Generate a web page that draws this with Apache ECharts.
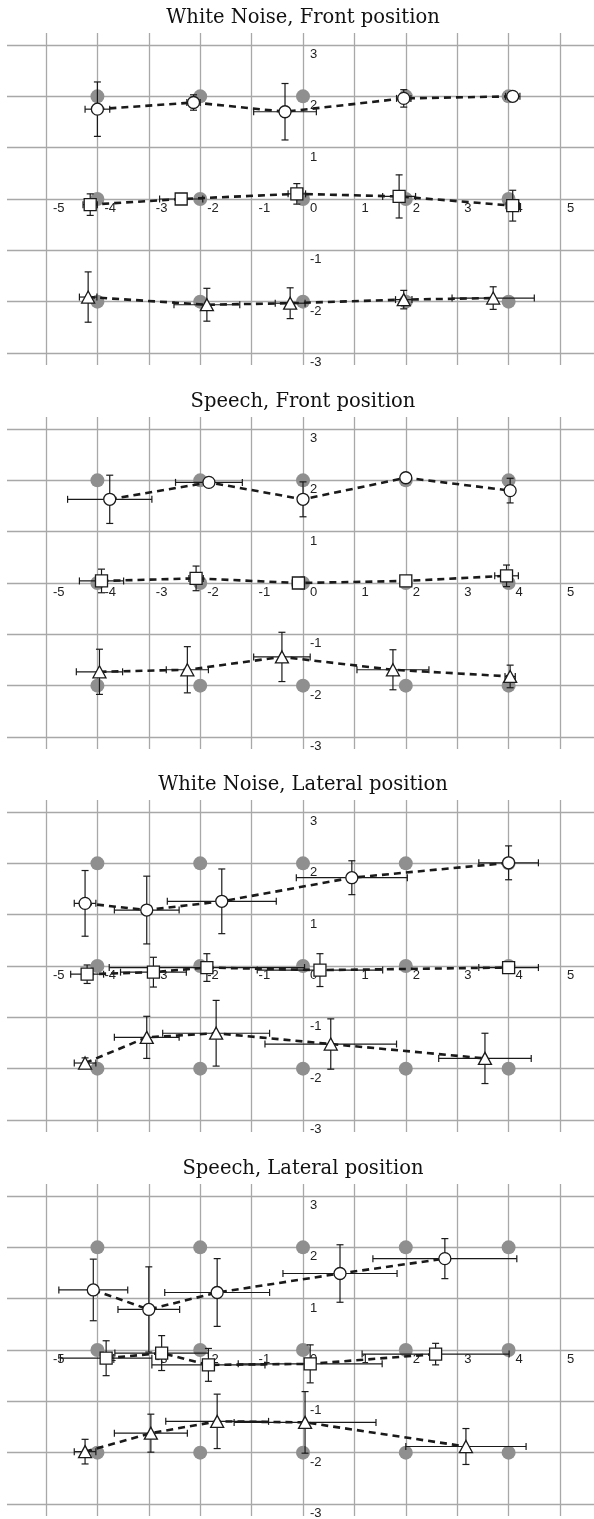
<!DOCTYPE html>
<html>
<head>
<meta charset="utf-8">
<title>Localisation responses</title>
<script src="https://cdn.jsdelivr.net/npm/echarts@6.0.0/dist/echarts.min.js"></script>
<style>
  html, body { margin: 0; padding: 0; background: #fff; }
  #chart { width: 594px; height: 1519px; }
</style>
</head>
<body>
<div id="chart"></div>
<script>
// panel titles, top to bottom
var panelTitles = [
  'White Noise, Front position',
  'Speech, Front position',
  'White Noise, Lateral position',
  'Speech, Lateral position'
];

// target positions (grey dots), same in every panel
var targetX = [-4, -2, 0, 2, 4];
var targetY = [2, 0, -2];

// axis range and tick step
var xRange = [-5, 5];
var yRange = [-3, 3];
var tickStep = 1;

// responses: [x, y, xErr, yErr]
// White Noise, Front
var wnFrontCircle   = [[-4.00, 1.75, 0.24, 0.53], [-2.13, 1.88, 0.13, 0.15], [-0.35, 1.70, 0.61, 0.55], [1.96, 1.96, 0.14, 0.17], [4.08, 2.00, 0.14, 0]];
var wnFrontSquare   = [[-4.14, -0.11, 0.14, 0.21], [-2.37, 0.00, 0.42, 0], [-0.12, 0.10, 0.17, 0.20], [1.87, 0.05, 0.32, 0.42], [4.08, -0.13, 0.13, 0.30]];
var wnFrontTriangle = [[-4.18, -1.91, 0.17, 0.49], [-1.87, -2.06, 0.64, 0.32], [-0.25, -2.03, 0.29, 0.30], [1.96, -1.96, 0.16, 0.18], [3.70, -1.93, 0.80, 0.22]];
// Speech, Front
var spFrontCircle   = [[-3.76, 1.63, 0.82, 0.47], [-1.83, 1.96, 0.65, 0], [0.00, 1.63, 0, 0.34], [2.00, 2.05, 0, 0], [4.03, 1.80, 0, 0.24]];
var spFrontSquare   = [[-3.92, 0.04, 0.43, 0.23], [-2.08, 0.09, 0.14, 0.24], [-0.09, 0.00, 0.12, 0], [2.00, 0.04, 0, 0], [3.96, 0.14, 0.23, 0.21]];
var spFrontTriangle = [[-3.96, -1.73, 0.45, 0.44], [-2.25, -1.69, 0.41, 0.45], [-0.41, -1.44, 0.55, 0.48], [1.75, -1.69, 0.70, 0.39], [4.03, -1.82, 0.10, 0.22]];
// White Noise, Lateral
var wnLatCircle   = [[-4.24, 1.22, 0.21, 0.64], [-3.04, 1.09, 0.63, 0.66], [-1.58, 1.26, 1.06, 0.63], [0.95, 1.72, 1.08, 0.33], [4.00, 2.01, 0.58, 0.33]];
var wnLatSquare   = [[-4.20, -0.16, 0.32, 0.18], [-2.91, -0.12, 0.64, 0.29], [-1.87, -0.03, 1.90, 0.27], [0.33, -0.08, 1.22, 0.32], [4.00, -0.03, 0.58, 0]];
var wnLatTriangle = [[-4.24, -1.89, 0.21, 0.10], [-3.04, -1.39, 0.63, 0.41], [-1.69, -1.31, 1.04, 0.64], [0.54, -1.52, 1.28, 0.49], [3.54, -1.80, 0.90, 0.49]];
// Speech, Lateral
var spLatCircle   = [[-4.08, 1.17, 0.67, 0.60], [-3.00, 0.79, 0.60, 0.83], [-1.67, 1.12, 1.02, 0.66], [0.72, 1.49, 1.11, 0.56], [2.76, 1.78, 1.40, 0.39]];
var spLatSquare   = [[-3.83, -0.16, 0.89, 0.34], [-2.75, -0.06, 0.91, 0.34], [-1.84, -0.29, 1.10, 0.32], [0.14, -0.27, 1.40, 0.37], [2.58, -0.08, 1.43, 0.21]];
var spLatTriangle = [[-4.24, -1.98, 0.21, 0.24], [-2.96, -1.62, 0.71, 0.37], [-1.67, -1.39, 1.00, 0.53], [0.04, -1.41, 1.38, 0.60], [3.17, -1.88, 1.17, 0.35]];

var panelData = [
  [wnFrontCircle, wnFrontSquare, wnFrontTriangle],
  [spFrontCircle, spFrontSquare, spFrontTriangle],
  [wnLatCircle, wnLatSquare, wnLatTriangle],
  [spLatCircle, spLatSquare, spLatTriangle]
];

var markerShapes = [
  { symbol: 'circle', size: 12 },
  { symbol: 'rect', size: 12 },
  { symbol: 'triangle', size: [13, 12] }
];

// layout
var plotLeft = 46, plotWidth = 514, plotHeight = 308;
var firstTop = 45, panelStep = 383.6, lineOverhang = 12;
var gridColor = '#a8a8a8';
var inkColor = '#1a1a1a';
var labelFont = { fontFamily: 'Liberation Sans', fontSize: 13, color: '#222' };

var targets = [];
targetY.forEach(function (ty) {
  targetX.forEach(function (tx) { targets.push([tx, ty]); });
});

function renderErrorBar(params, api) {
  var x = api.value(0), y = api.value(1), xe = api.value(2), ye = api.value(3);
  var cap = 3.5;
  var style = { stroke: inkColor, lineWidth: 1.2, fill: null };
  var kids = [];
  if (xe > 0) {
    var l = api.coord([x - xe, y]), r = api.coord([x + xe, y]);
    kids.push({ type: 'line', shape: { x1: l[0], y1: l[1], x2: r[0], y2: r[1] }, style: style });
    kids.push({ type: 'line', shape: { x1: l[0], y1: l[1] - cap, x2: l[0], y2: l[1] + cap }, style: style });
    kids.push({ type: 'line', shape: { x1: r[0], y1: r[1] - cap, x2: r[0], y2: r[1] + cap }, style: style });
  }
  if (ye > 0) {
    var t = api.coord([x, y + ye]), b = api.coord([x, y - ye]);
    kids.push({ type: 'line', shape: { x1: t[0], y1: t[1], x2: b[0], y2: b[1] }, style: style });
    kids.push({ type: 'line', shape: { x1: t[0] - cap, y1: t[1], x2: t[0] + cap, y2: t[1] }, style: style });
    kids.push({ type: 'line', shape: { x1: b[0] - cap, y1: b[1], x2: b[0] + cap, y2: b[1] }, style: style });
  }
  return { type: 'group', children: kids };
}

var titles = [], grids = [], xAxes = [], yAxes = [], series = [];
var hiddenLine = { show: false, onZero: false };

panelTitles.forEach(function (name, p) {
  var top = Math.round(firstTop + panelStep * p);

  titles.push({
    text: name, left: 303, top: top - 37, padding: 0,
    textAlign: 'center', textVerticalAlign: 'top',
    textStyle: { fontFamily: 'DejaVu Serif', fontWeight: 'normal', fontSize: 19.5, color: '#111' }
  });

  // grid A: vertical grid lines (overhang above and below)
  grids.push({ left: plotLeft, width: plotWidth, top: top - lineOverhang, height: plotHeight + 2 * lineOverhang, outerBoundsMode: 'none' });
  xAxes.push({
    gridIndex: 3 * p, type: 'value', min: xRange[0], max: xRange[1], interval: tickStep,
    axisLine: { show: false }, axisTick: { show: false }, axisLabel: { show: false },
    splitLine: { show: true, lineStyle: { color: gridColor, width: 1.3 } }
  });
  yAxes.push({ gridIndex: 3 * p, type: 'value', min: 0, max: 1, show: false });

  // grid B: horizontal grid lines (run the full width)
  grids.push({ left: 7, right: 0, top: top, height: plotHeight, outerBoundsMode: 'none' });
  xAxes.push({ gridIndex: 3 * p + 1, type: 'value', min: 0, max: 1, show: false });
  yAxes.push({
    gridIndex: 3 * p + 1, type: 'value', min: yRange[0], max: yRange[1], interval: tickStep,
    axisLine: { show: false }, axisTick: { show: false }, axisLabel: { show: false },
    splitLine: { show: true, lineStyle: { color: gridColor, width: 1.3 } }
  });

  // grid D: data; its axes are shifted onto the zero lines with a negative offset
  var gi = 3 * p + 2;
  grids.push({ left: plotLeft, width: plotWidth, top: top, height: plotHeight, outerBoundsMode: 'none' });
  xAxes.push({
    gridIndex: gi, type: 'value', position: 'bottom', offset: -plotHeight / 2,
    min: xRange[0], max: xRange[1], interval: tickStep,
    axisLine: hiddenLine, axisTick: { show: false }, splitLine: { show: false },
    axisLabel: Object.assign({ align: 'left', verticalAlign: 'top', margin: 3, padding: [0, 0, 0, 7] }, labelFont)
  });
  yAxes.push({
    gridIndex: gi, type: 'value', position: 'left', offset: -plotWidth / 2,
    min: yRange[0], max: yRange[1], interval: tickStep,
    axisLine: hiddenLine, axisTick: { show: false }, splitLine: { show: false },
    axisLabel: Object.assign({
      inside: true, align: 'left', verticalAlign: 'top', margin: 7, padding: [3, 0, 0, 0],
      formatter: function (v) { return v === 0 ? '' : String(v); }
    }, labelFont)
  });

  series.push({
    type: 'scatter', xAxisIndex: gi, yAxisIndex: gi, data: targets,
    symbol: 'circle', symbolSize: 14, itemStyle: { color: '#8f8f8f', opacity: 1 }, z: 2, silent: true
  });

  panelData[p].forEach(function (rows, k) {
    series.push({
      type: 'custom', xAxisIndex: gi, yAxisIndex: gi, data: rows,
      encode: { x: 0, y: 1 }, renderItem: renderErrorBar, z: 3, silent: true, clip: false
    });
    series.push({
      type: 'line', xAxisIndex: gi, yAxisIndex: gi,
      data: rows.map(function (r) { return [r[0], r[1]]; }),
      symbol: markerShapes[k].symbol, symbolSize: markerShapes[k].size, showSymbol: true,
      itemStyle: { color: '#fff', borderColor: inkColor, borderWidth: 1.3 },
      lineStyle: { color: inkColor, width: 2.6, type: [7, 5] },
      z: 4, silent: true
    });
  });
});

var chart = echarts.init(document.getElementById('chart'));
chart.setOption({
  animation: false,
  backgroundColor: '#fff',
  title: titles,
  grid: grids,
  xAxis: xAxes,
  yAxis: yAxes,
  series: series
});
</script>
</body>
</html>
